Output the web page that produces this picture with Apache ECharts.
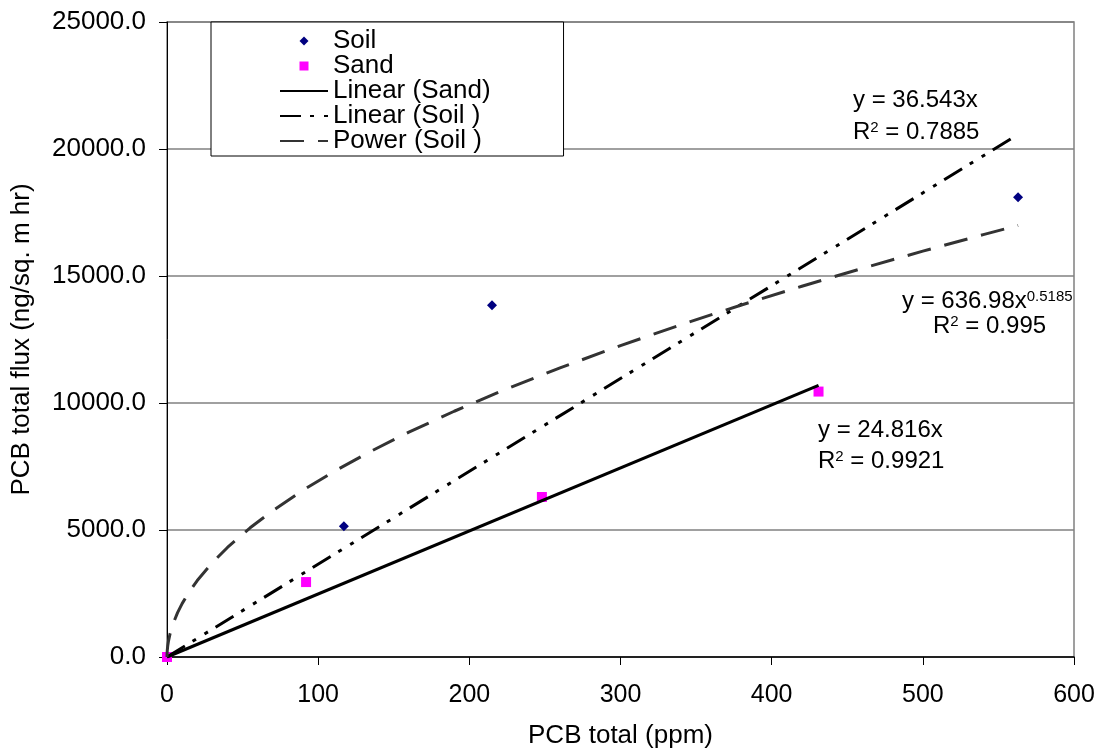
<!DOCTYPE html>
<html>
<head>
<meta charset="utf-8">
<script src="https://cdn.jsdelivr.net/npm/echarts@6/dist/echarts.min.js"></script>
<style>
  html, body { margin: 0; padding: 0; background: #fff; }
  #chart { width: 1099px; height: 752px; }
</style>
</head>
<body>
<div id="chart"></div>
<script>
// ---- Data ----
const soilX = [0, 117, 215, 563];
const soilY = [0, 5150, 13850, 18100];
const sandX = [0, 92, 248, 431];
const sandY = [0, 2950, 6300, 10450];

// Trendline equations as printed on the chart
const sandSlope = 24.816;          // y = 24.816x
const soilSlope = 36.543;          // y = 36.543x
const powerCoef = 636.98;          // y = 636.98x^0.5185
const powerExp = 0.5185;
const sandTrendRange = [0, 431];
const soilTrendRange = [0, 563];
const powerSampleX = [0, 0.05, 0.2, 0.5, 1, 2, 4, 7, 10, 15, 20, 30, 40, 55, 70, 90, 110, 135, 160, 190, 220, 260, 300, 340, 380, 420, 460, 500, 540, 563];

const seriesNames = ['Soil', 'Sand', 'Linear (Sand)', 'Linear (Soil )', 'Power (Soil )'];
const xTitle = 'PCB total (ppm)';
const yTitle = 'PCB total flux (ng/sq. m hr)';
const eqTexts = {
  soilLin: ['y = 36.543x', '0.7885'],
  soilPow: ['y = 636.98x', '0.5185', '0.995'],
  sandLin: ['y = 24.816x', '0.9921']
};

const FONT = 'Liberation Sans, Arial, sans-serif';

const pairs = (xs, ys) => xs.map((x, i) => [x, ys[i]]);
const soilData = pairs(soilX, soilY);
const sandData = pairs(sandX, sandY);
const sandTrend = sandTrendRange.map(x => [x, sandSlope * x]);
const soilTrend = soilTrendRange.map(x => [x, soilSlope * x]);
const powerTrend = powerSampleX.map(x => [x, powerCoef * Math.pow(x, powerExp)]);

const chart = echarts.init(document.getElementById('chart'), null, { renderer: 'canvas' });

const rich = {
  n: { fontSize: 24, fontFamily: FONT, color: '#000', lineHeight: 24 },
  s: { fontSize: 15, fontFamily: FONT, color: '#000', verticalAlign: 'top', lineHeight: 15 }
};
function eqText(x, y, text) {
  return {
    type: 'text', x: x, y: y, z: 100,
    style: { text: text, rich: rich, fontFamily: FONT, fontSize: 24, fill: '#000', verticalAlign: 'middle', align: 'left' }
  };
}

const diamondIcon = 'path://M0,-1L1,0L0,1L-1,0Z';
const squareIcon = 'path://M0,0L1,0L1,1L0,1Z';

chart.setOption({
  animation: false,
  backgroundColor: '#fff',
  textStyle: { fontFamily: FONT },
  grid: {
    left: 167, right: 25, top: 22, bottom: 95,
    outerBoundsMode: 'none', containLabel: false,
    show: true, borderColor: '#808080', borderWidth: 1.5, backgroundColor: 'transparent'
  },
  legend: {
    orient: 'vertical',
    left: 211, top: 22,
    itemWidth: 48, itemHeight: 9, itemGap: -1,
    padding: [6, 73, 2, 68],
    backgroundColor: '#fff', borderColor: '#000', borderWidth: 1,
    textStyle: { fontSize: 26, lineHeight: 24, color: '#000', fontFamily: FONT },
    data: [
      { name: seriesNames[0], icon: diamondIcon, itemStyle: { color: '#000080', opacity: 1 } },
      { name: seriesNames[1], icon: squareIcon, itemStyle: { color: '#FF00FF', opacity: 1 } },
      { name: seriesNames[2], itemStyle: { opacity: 0 } },
      { name: seriesNames[3], itemStyle: { opacity: 0 } },
      { name: seriesNames[4], itemStyle: { opacity: 0 } }
    ]
  },
  xAxis: {
    type: 'value', min: 0, max: 600, interval: 100,
    axisLine: { show: true, lineStyle: { color: '#000', width: 1.5 } },
    axisTick: { show: true, length: 8, lineStyle: { color: '#000', width: 1 } },
    axisLabel: { fontSize: 25, color: '#000', fontFamily: FONT, margin: 26 },
    splitLine: { show: false },
    name: xTitle, nameLocation: 'middle', nameGap: 66,
    nameTextStyle: { fontSize: 26, color: '#000', fontFamily: FONT }
  },
  yAxis: {
    type: 'value', min: 0, max: 25000, interval: 5000,
    axisLine: { show: true, lineStyle: { color: '#000', width: 1 } },
    axisTick: { show: true, length: 8, lineStyle: { color: '#000', width: 1 } },
    axisLabel: { fontSize: 26, color: '#000', fontFamily: FONT, margin: 21, formatter: v => v.toFixed(1) },
    splitLine: { show: true, lineStyle: { color: '#808080', width: 1.5 } },
    name: yTitle, nameLocation: 'middle', nameGap: 132,
    nameTextStyle: { fontSize: 26, color: '#000', fontFamily: FONT }
  },
  series: [
    { name: seriesNames[0], type: 'scatter', data: soilData, symbol: 'diamond', symbolSize: 10,
      itemStyle: { color: '#000080', opacity: 1 }, z: 2 },
    { name: seriesNames[1], type: 'scatter', data: sandData, symbol: 'rect', symbolSize: 10,
      itemStyle: { color: '#FF00FF', opacity: 1 }, z: 2 },
    { name: seriesNames[2], type: 'line', data: sandTrend, symbol: 'none', showSymbol: false,
      itemStyle: { color: '#000' }, lineStyle: { color: '#000', width: 3, type: 'solid' }, z: 3 },
    { name: seriesNames[3], type: 'line', data: soilTrend, symbol: 'none', showSymbol: false,
      itemStyle: { color: '#000' }, lineStyle: { color: '#000', width: 3, type: [21, 9, 4, 10, 4, 9] }, z: 3 },
    { name: seriesNames[4], type: 'line', data: powerTrend, symbol: 'none', showSymbol: false,
      itemStyle: { color: '#333' }, lineStyle: { color: '#333', width: 3, type: [24, 14] }, z: 3 }
  ],
  graphic: [
    eqText(853, 100, '{n|' + eqTexts.soilLin[0] + '}'),
    eqText(853, 132, '{n|R}{s|2}{n| = ' + eqTexts.soilLin[1] + '}'),
    eqText(902, 301, '{n|' + eqTexts.soilPow[0] + '}{s|' + eqTexts.soilPow[1] + '}'),
    eqText(933, 326, '{n|R}{s|2}{n| = ' + eqTexts.soilPow[2] + '}'),
    eqText(818, 430, '{n|' + eqTexts.sandLin[0] + '}'),
    eqText(818, 461, '{n|R}{s|2}{n| = ' + eqTexts.sandLin[1] + '}')
  ]
});
</script>
</body>
</html>
